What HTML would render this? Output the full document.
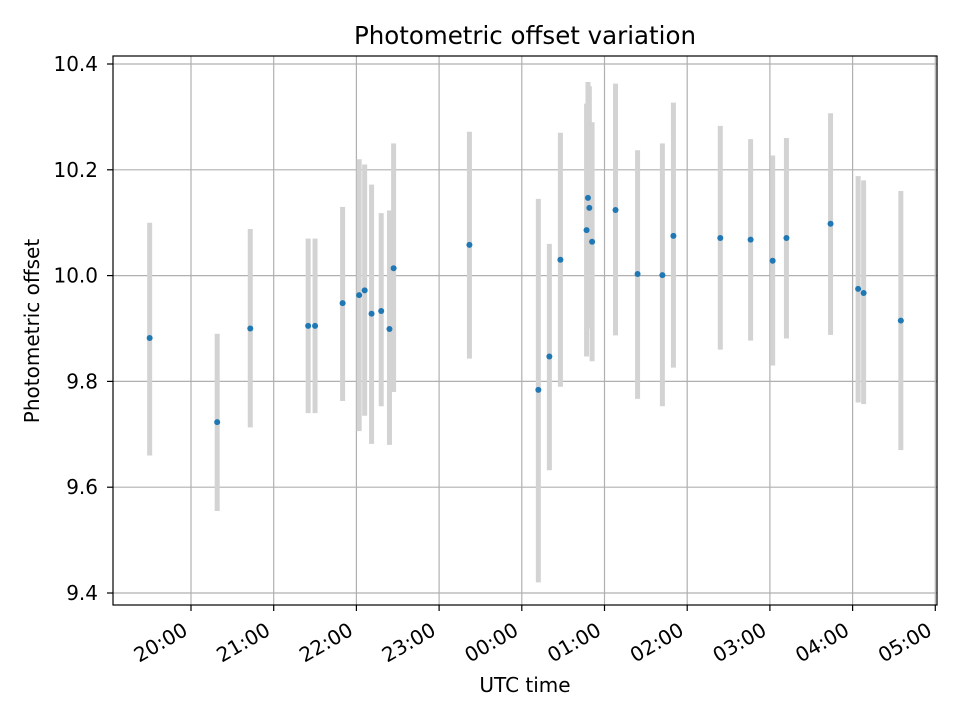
<!DOCTYPE html>
<html><head><meta charset="utf-8"><style>
body{margin:0;background:#fff}
svg text{font-family:"DejaVu Sans","Liberation Sans",sans-serif;fill:#000}
</style></head><body>
<svg id="chart" width="960" height="720" viewBox="0 0 960 720" xmlns="http://www.w3.org/2000/svg">
<rect width="960" height="720" fill="#fff"/>
<g id="grid"></g><g id="bars"></g><g id="pts"></g><g id="axes"></g>
<text x="525" y="44" font-size="24.5" text-anchor="middle">Photometric offset variation</text>
<text x="525" y="692" font-size="20" text-anchor="middle">UTC time</text>
<text transform="translate(39,331) rotate(-90)" font-size="20" text-anchor="middle">Photometric offset</text>
</svg>
<script>
const times=["19:30","20:19","20:43","21:25","21:30","21:50","22:02","22:06","22:11","22:18","22:24","22:27","23:22","00:12","00:20","00:28","00:47","00:48","00:49","00:51","01:08","01:24","01:42","01:50","02:24","02:46","03:02","03:12","03:44","04:04","04:08","04:35"];
const values=[9.882,9.723,9.900,9.905,9.905,9.948,9.963,9.972,9.928,9.933,9.899,10.014,10.058,9.784,9.847,10.030,10.086,10.147,10.128,10.064,10.124,10.003,10.001,10.075,10.071,10.068,10.028,10.071,10.098,9.975,9.967,9.915];
const lows=[9.66,9.555,9.713,9.74,9.74,9.763,9.706,9.735,9.682,9.753,9.68,9.78,9.843,9.42,9.632,9.79,9.847,9.906,9.9,9.838,9.887,9.767,9.753,9.826,9.86,9.877,9.83,9.881,9.888,9.76,9.757,9.67];
const highs=[10.10,9.89,10.088,10.07,10.07,10.13,10.22,10.21,10.172,10.118,10.123,10.25,10.272,10.145,10.06,10.27,10.325,10.366,10.358,10.29,10.363,10.237,10.25,10.327,10.283,10.258,10.227,10.26,10.307,10.188,10.18,10.16];
const xTicks=["20:00","21:00","22:00","23:00","00:00","01:00","02:00","03:00","04:00","05:00"];
const yTicks=[9.4,9.6,9.8,10.0,10.2,10.4];
const NS="http://www.w3.org/2000/svg";
const L=113,R=937,T=56,B=605;
function mins(s){let [h,m]=s.split(":").map(Number);if(h<12)h+=24;return (h-20)*60+m;}
function X(s){return 191+mins(s)*82.7/60;}
function Y(v){return 64+(10.4-v)*529;}
function mk(tag,attrs,parent){const e=document.createElementNS(NS,tag);for(const k in attrs)e.setAttribute(k,attrs[k]);document.getElementById(parent).appendChild(e);return e;}
xTicks.forEach(t=>{const x=X(t);
 const g=mk("line",{x1:x,x2:x,y1:T,y2:B,stroke:"#b0b0b0","stroke-width":1.2},"grid");
 
 
 const tk=mk("line",{x1:x,x2:x,y1:B,y2:B+6,stroke:"#000","stroke-width":1.2},"axes");
 
 
 const tx=mk("text",{transform:`translate(${x-2},${B+29}) rotate(-30)`,"font-size":20,"text-anchor":"end"},"axes");
 tx.textContent=t;
 
 
});
yTicks.forEach(v=>{const y=Y(v);
 const g=mk("line",{x1:L,x2:R,y1:y,y2:y,stroke:"#b0b0b0","stroke-width":1.2},"grid");
 
 
 const tk=mk("line",{x1:L-6,x2:L,y1:y,y2:y,stroke:"#000","stroke-width":1.2},"axes");
 
 
 const tx=mk("text",{x:L-15,y:y+7,"font-size":20,"text-anchor":"end"},"axes");
 tx.textContent=v.toFixed(1);
 
 
});
times.forEach((t,i)=>{const x=X(t);
 const b=mk("line",{x1:x,x2:x,y1:Y(lows[i]),y2:Y(highs[i]),stroke:"#d3d3d3","stroke-width":5},"bars");
 
 
 const c=mk("circle",{cx:x,cy:Y(values[i]),r:3,fill:"#1f77b4"},"pts");
 
 
});
const fr=mk("rect",{x:L,y:T,width:R-L,height:B-T,fill:"none",stroke:"#000","stroke-width":1.2},"axes");


</script>
</body></html>
